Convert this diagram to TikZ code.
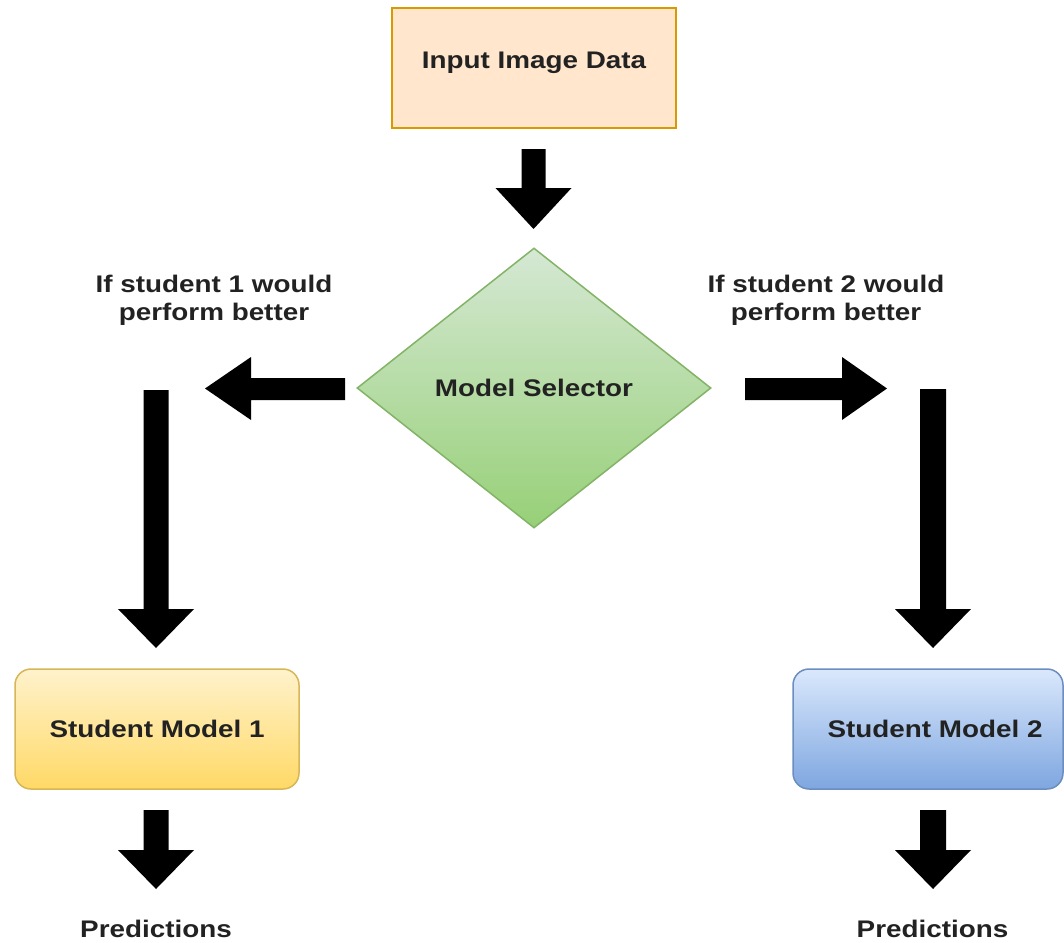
\documentclass[tikz,border=0pt]{standalone}
\usepackage{fontspec}
\setmainfont[FakeStretch=1.16]{Liberation Sans}
\usetikzlibrary{shapes.geometric}

\definecolor{txt}{HTML}{222222}
\definecolor{inputfill}{HTML}{FFE6CC}
\definecolor{inputline}{HTML}{D79B00}
\definecolor{selTop}{HTML}{D5E8D4}
\definecolor{selBot}{HTML}{97D077}
\definecolor{selLine}{HTML}{82B366}
\definecolor{oneTop}{HTML}{FFF2CC}
\definecolor{oneBot}{HTML}{FFD966}
\definecolor{oneLine}{HTML}{D6B656}
\definecolor{twoTop}{HTML}{DAE8FC}
\definecolor{twoBot}{HTML}{7EA6E0}
\definecolor{twoLine}{HTML}{6C8EBF}

\begin{document}
\begin{tikzpicture}[x=1pt,y=-1pt,
  every node/.style={font=\fontsize{24}{28}\selectfont\bfseries, text=txt},
  inputbox/.style={rectangle, draw=inputline, fill=inputfill, line width=2,
    minimum width=284, minimum height=120, inner sep=0,
    text height=6, text depth=6},
  selector/.style={diamond, draw=selLine, line width=1.5,
    top color=selTop, bottom color=selBot,
    minimum width=354, minimum height=280, inner sep=0},
  studentone/.style={rectangle, rounded corners=16, draw=oneLine, line width=1.5,
    top color=oneTop, bottom color=oneBot,
    minimum width=284, minimum height=120, inner sep=0},
  studenttwo/.style={rectangle, rounded corners=16, draw=twoLine, line width=1.5,
    top color=twoTop, bottom color=twoBot,
    minimum width=270, minimum height=120, inner sep=0},
  blockarrow/.style={fill=black}]

\useasboundingbox (0,0) rectangle (1064,942);

% boxes
\node[inputbox] (input) at (534,68) {Input Image Data};
\node[selector] (sel) at (534,388) {Model Selector};
\node[studentone] (s1) at (157,729) {Student Model 1};
\node[studenttwo, label={[name=s2text, xshift=7]center:Student Model 2}] (s2) at (928,729) {};

% branch labels
\node[align=center] (if1) at (214,300.5) {If student 1 would\\perform better};
\node[align=center] (if2) at (826,300.5) {If student 2 would\\perform better};

% outputs
\node (p1) at (156,929) {Predictions};
\node (p2) at (932.5,929) {Predictions};

% input -> selector
\fill[blockarrow] (521.5,149) -- (545.5,149) -- (545.5,188) -- (571.5,188)
  -- (533.5,229) -- (495.5,188) -- (521.5,188) -- cycle;

% selector -> left branch
\fill[blockarrow] (345,378) -- (251,378) -- (251,357) -- (205,388.5)
  -- (251,420) -- (251,400) -- (345,400) -- cycle;
% selector -> right branch
\fill[blockarrow] (745,378) -- (842,378) -- (842,357) -- (887,388.5)
  -- (842,420) -- (842,400) -- (745,400) -- cycle;

% down to student model 1
\fill[blockarrow] (143.5,390) -- (168.5,390) -- (168.5,609) -- (194,609)
  -- (156,648) -- (118,609) -- (143.5,609) -- cycle;
% down to student model 2
\fill[blockarrow] (920,389) -- (946,389) -- (946,609) -- (971,609)
  -- (933,648) -- (895,609) -- (920,609) -- cycle;

% student model 1 -> predictions
\fill[blockarrow] (143.5,810) -- (168.5,810) -- (168.5,850) -- (194,850)
  -- (156,889) -- (118,850) -- (143.5,850) -- cycle;
% student model 2 -> predictions
\fill[blockarrow] (920,810) -- (946,810) -- (946,850) -- (971,850)
  -- (933,889) -- (895,850) -- (920,850) -- cycle;

\end{tikzpicture}
\end{document}
